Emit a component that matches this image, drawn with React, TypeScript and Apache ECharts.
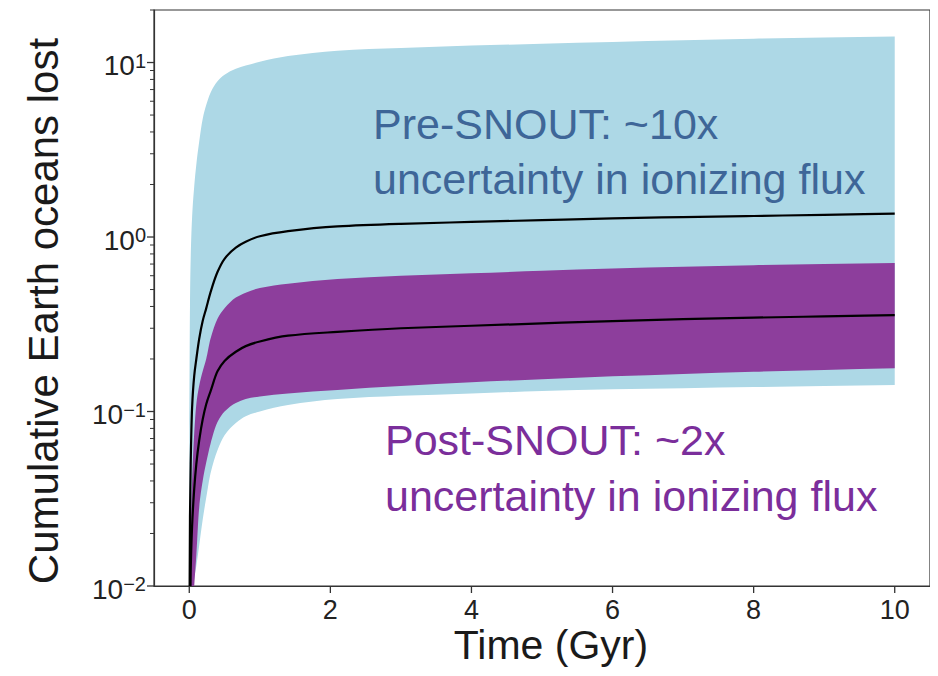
import React, { useEffect, useRef } from "react";
import * as echarts from "echarts";

// Time (Gyr)
const T = [0.002, 0.01, 0.02, 0.04, 0.07, 0.1, 0.14, 0.19, 0.24, 0.3, 0.4, 0.5, 0.66, 0.8, 1.0, 1.4, 2.1, 3, 4, 5, 6, 7, 8, 9, 10];

// Pre-SNOUT band (light blue) and its central line
const preHigh = [0.08, 0.4, 0.75, 1.3, 1.95, 2.6, 3.5, 4.75, 5.7, 6.7, 7.8, 8.5, 9.2, 9.6, 10.1, 10.9, 11.7, 12.1, 12.5, 12.8, 13.1, 13.4, 13.7, 13.9, 14.1];
const preLine = [0.005, 0.025, 0.05, 0.105, 0.16, 0.2, 0.26, 0.33, 0.39, 0.48, 0.63, 0.75, 0.87, 0.94, 1.01, 1.08, 1.15, 1.19, 1.22, 1.25, 1.28, 1.3, 1.32, 1.34, 1.36];
const preLow = [0.0005, 0.0025, 0.005, 0.008, 0.011, 0.013, 0.017, 0.024, 0.032, 0.044, 0.06, 0.073, 0.086, 0.094, 0.1, 0.109, 0.118, 0.123, 0.127, 0.131, 0.134, 0.136, 0.138, 0.14, 0.142];

// Post-SNOUT band (purple) and its central line
const postHigh = [0.002, 0.01, 0.02, 0.04, 0.075, 0.11, 0.14, 0.17, 0.2, 0.26, 0.34, 0.39, 0.45, 0.48, 0.51, 0.54, 0.574, 0.6, 0.62, 0.64, 0.66, 0.675, 0.69, 0.7, 0.71];
const postLine = [0.001, 0.006, 0.012, 0.022, 0.036, 0.05, 0.068, 0.09, 0.11, 0.13, 0.17, 0.195, 0.22, 0.237, 0.252, 0.272, 0.286, 0.3, 0.31, 0.32, 0.33, 0.338, 0.345, 0.351, 0.357];
const postLow = [0.0003, 0.0015, 0.003, 0.006, 0.01, 0.015, 0.028, 0.04, 0.051, 0.065, 0.087, 0.1, 0.112, 0.118, 0.122, 0.127, 0.133, 0.14, 0.147, 0.153, 0.159, 0.164, 0.169, 0.173, 0.177];

// Ticks
const xTicks = [0, 2, 4, 6, 8, 10];
const yMajor = [0.01, 0.1, 1, 10];
const yMinorMultipliers = [2, 3, 4, 5, 6, 7, 8, 9];

const FONT = "'Liberation Sans', Arial, Helvetica, sans-serif";
const LIGHTBLUE = "#add8e6";
const PURPLE = "#8d3e9c";
const AXIS = "#333333";

// Monotone cubic (Fritsch–Carlson) path through pixel points
function monotonePath(ctx: any, pts: number[][], move: boolean) {
  const n = pts.length;
  if (move) ctx.moveTo(pts[0][0], pts[0][1]);
  else ctx.lineTo(pts[0][0], pts[0][1]);
  if (n < 2) return;
  const d: number[] = [];
  for (let i = 0; i < n - 1; i++) {
    const h = pts[i + 1][0] - pts[i][0];
    d.push(h === 0 ? 0 : (pts[i + 1][1] - pts[i][1]) / h);
  }
  const m: number[] = new Array(n).fill(0);
  m[0] = d[0];
  m[n - 1] = d[n - 2];
  for (let i = 1; i < n - 1; i++) {
    if (d[i - 1] * d[i] <= 0) {
      m[i] = 0;
    } else {
      const h0 = pts[i][0] - pts[i - 1][0];
      const h1 = pts[i + 1][0] - pts[i][0];
      const w1 = 2 * h1 + h0;
      const w2 = h1 + 2 * h0;
      m[i] = (w1 + w2) / (w1 / d[i - 1] + w2 / d[i]);
    }
  }
  for (let i = 0; i < n - 1; i++) {
    const h = pts[i + 1][0] - pts[i][0];
    ctx.bezierCurveTo(
      pts[i][0] + h / 3,
      pts[i][1] + (m[i] * h) / 3,
      pts[i + 1][0] - h / 3,
      pts[i + 1][1] - (m[i + 1] * h) / 3,
      pts[i + 1][0],
      pts[i + 1][1]
    );
  }
}

echarts.graphic.registerShape(
  "bandShape",
  echarts.graphic.extendShape({
    shape: { top: [], bottom: [] },
    buildPath(ctx: any, shape: any) {
      monotonePath(ctx, shape.top, true);
      monotonePath(ctx, shape.bottom.slice().reverse(), false);
      ctx.closePath();
    },
  } as any)
);

echarts.graphic.registerShape(
  "curveShape",
  echarts.graphic.extendShape({
    shape: { points: [] },
    buildPath(ctx: any, shape: any) {
      monotonePath(ctx, shape.points, true);
    },
  } as any)
);

export default function App() {
  const ref = useRef<HTMLDivElement>(null);

  useEffect(() => {
    if (!ref.current) return;
    const chart = echarts.init(ref.current, undefined, { renderer: "svg" });

    const yMinor: number[] = [];
    yMajor.forEach((d) => yMinorMultipliers.forEach((m) => yMinor.push(parseFloat((d * m).toPrecision(3)))));

    const supMinus = (e: number) => (e < 0 ? "\u2212" + Math.abs(e) : String(e));

    const clipOf = (params: any) => ({
      type: "rect",
      shape: { x: params.coordSys.x, y: params.coordSys.y, width: params.coordSys.width, height: params.coordSys.height },
    });

    const bandSeries = (name: string, hi: number[], lo: number[], color: string, z: number) => ({
      type: "custom",
      name,
      data: [[1, 1]],
      silent: true,
      z,
      renderItem: (params: any, api: any) => ({
        type: "bandShape",
        shape: {
          top: T.map((t, i) => api.coord([t, hi[i]])),
          bottom: T.map((t, i) => api.coord([t, lo[i]])),
        },
        style: { fill: color, stroke: null },
        clipPath: clipOf(params),
      }),
    });

    const lineSeries = (name: string, vals: number[], z: number) => ({
      type: "custom",
      name,
      data: [[1, 1]],
      silent: true,
      z,
      renderItem: (params: any, api: any) => ({
        type: "curveShape",
        shape: { points: T.map((t, i) => api.coord([t, vals[i]])) },
        style: { fill: "none", stroke: "#000", lineWidth: 2.2 },
        clipPath: clipOf(params),
      }),
    });

    const texts: any[] = [
      {
        type: "text",
        id: "ytitle",
        x: 43,
        y: 311,
        rotation: Math.PI / 2,
        z: 10,
        style: {
          text: "Cumulative Earth oceans lost",
          fontSize: 42,
          fontFamily: FONT,
          fill: "#1a1a1a",
          align: "center",
          verticalAlign: "middle",
        },
      },
      {
        type: "text",
        id: "xtitle",
        x: 551,
        y: 645,
        z: 10,
        style: { text: "Time (Gyr)", fontSize: 41, fontFamily: FONT, fill: "#1a1a1a", align: "center", verticalAlign: "middle" },
      },
      {
        type: "text",
        id: "pre1",
        x: 373,
        y: 124,
        z: 10,
        style: { text: "Pre-SNOUT: ~10x", fontSize: 43, fontFamily: FONT, fill: "#3e6698", verticalAlign: "middle" },
      },
      {
        type: "text",
        id: "pre2",
        x: 373,
        y: 179,
        z: 10,
        style: { text: "uncertainty in ionizing flux", fontSize: 43, fontFamily: FONT, fill: "#3e6698", verticalAlign: "middle" },
      },
      {
        type: "text",
        id: "post1",
        x: 385,
        y: 440,
        z: 10,
        style: { text: "Post-SNOUT: ~2x", fontSize: 43, fontFamily: FONT, fill: "#7b2e9b", verticalAlign: "middle" },
      },
      {
        type: "text",
        id: "post2",
        x: 385,
        y: 496,
        z: 10,
        style: { text: "uncertainty in ionizing flux", fontSize: 43, fontFamily: FONT, fill: "#7b2e9b", verticalAlign: "middle" },
      },
    ];

    const option: any = {
      animation: false,
      grid: {
        left: 154,
        top: 10,
        right: 8,
        bottom: 90,
        show: true,
        borderColor: AXIS,
        borderWidth: 1.2,
        backgroundColor: "transparent",
      },
      xAxis: {
        type: "value",
        min: -0.5,
        max: 10.5,
        axisLine: { show: true, onZero: false, lineStyle: { color: AXIS, width: 1.2 } },
        axisTick: { show: false },
        axisLabel: { customValues: xTicks, fontSize: 27, margin: 10, color: "#222", fontFamily: FONT },
        splitLine: { show: false },
      },
      yAxis: {
        type: "log",
        logBase: 10,
        min: 0.01,
        max: 20,
        axisLine: { show: true, onZero: false, lineStyle: { color: AXIS, width: 1.2 } },
        axisTick: { show: false },
        axisLabel: {
          customValues: yMajor,
          margin: 8,
          padding: [6, 0, 0, 0],
          formatter: (v: number) => `{b|10}{s|${supMinus(Math.round(Math.log10(v)))}}`,
          rich: {
            b: { fontSize: 28, fontFamily: FONT, color: "#222", lineHeight: 30 },
            s: { fontSize: 20, fontFamily: FONT, color: "#222", lineHeight: 15, verticalAlign: "top" },
          },
        },
        splitLine: { show: false },
        minorTick: { show: false },
      },
      series: [
        bandSeries("Pre-SNOUT band", preHigh, preLow, LIGHTBLUE, 1),
        bandSeries("Post-SNOUT band", postHigh, postLow, PURPLE, 2),
        lineSeries("Pre-SNOUT", preLine, 3),
        lineSeries("Post-SNOUT", postLine, 3),
      ],
      graphic: texts,
    };

    chart.setOption(option);

    // tick marks placed through the axes' scales
    const X = (t: number) => chart.convertToPixel({ xAxisIndex: 0 }, t) as number;
    const Y = (v: number) => chart.convertToPixel({ yAxisIndex: 0 }, v) as number;
    const xLeft = X(-0.5);
    const yBottom = Y(0.01);
    const tickStyle = (w: number) => ({ stroke: AXIS, lineWidth: w });
    const ticks: any[] = [
      ...yMinor.map((v, i) => ({
        type: "line",
        id: "ymin" + i,
        z: 20,
        shape: { x1: xLeft - 4, y1: Y(v), x2: xLeft, y2: Y(v) },
        style: tickStyle(1),
      })),
      ...yMajor.map((v, i) => ({
        type: "line",
        id: "ymaj" + i,
        z: 20,
        shape: { x1: xLeft - 7, y1: Y(v), x2: xLeft, y2: Y(v) },
        style: tickStyle(1.3),
      })),
      ...xTicks.map((t, i) => ({
        type: "line",
        id: "xmaj" + i,
        z: 20,
        shape: { x1: X(t), y1: yBottom, x2: X(t), y2: yBottom + 7 },
        style: tickStyle(1.3),
      })),
    ];
    chart.setOption({ graphic: [...texts, ...ticks] });

    return () => chart.dispose();
  }, []);

  return <div ref={ref} style={{ width: 938, height: 676, margin: -8 }} />;
}
